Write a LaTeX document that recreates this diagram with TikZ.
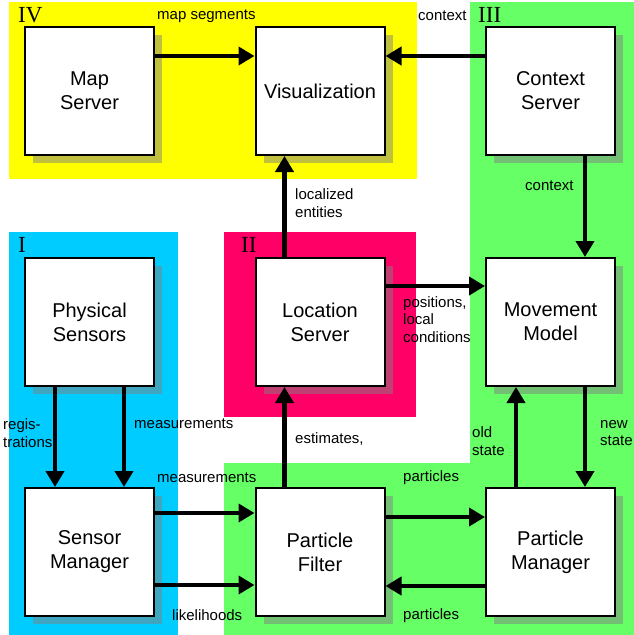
\documentclass[tikz,border=0pt]{standalone}
\usepackage{fontspec}
\setmainfont{Liberation Sans}
\newfontfamily\numfont{Liberation Serif}
\usepackage{xcolor}
\usepackage{tikz}
\usetikzlibrary{arrows.meta,shadows,calc}

\definecolor{zoneyellow}{HTML}{FFFF00}
\definecolor{zonegreen}{HTML}{66FF66}
\definecolor{zonecyan}{HTML}{00CCFF}
\definecolor{zonepink}{HTML}{FF0066}

\begin{document}
\begin{tikzpicture}[
    x=1pt, y=-1pt,
    box/.style={rectangle, draw, line width=2pt, fill=white, minimum width=129pt, minimum height=128pt, align=center, font=\fontsize{20}{24}\selectfont, drop shadow={shadow xshift=8pt, shadow yshift=-8pt, fill=gray, opacity=0.5}},
    flow/.style={line width=4.5pt, -{Triangle[length=16pt,width=18pt]}},
    lbl/.style={inner sep=0pt, anchor=west, align=left, font=\fontsize{15}{17.5}\selectfont},
    zone/.style={inner sep=0pt, anchor=west, font=\numfont\fontsize{23}{23}\selectfont}
]
    \useasboundingbox (0,0) rectangle (634,635);

    % Zones
    \fill[zoneyellow] (9,2) rectangle (417,179);
    \fill[zonegreen] (470,2) rectangle (634,635);
    \fill[zonegreen] (224,463) rectangle (634,635);
    \fill[zonecyan] (9,232) rectangle (178,635);
    \fill[zonepink] (224,232) rectangle (416,417);
    \node[zone] (zIV) at (18,15) {IV};
    \node[zone] (zIII) at (478,15) {III};
    \node[zone] (zI) at (18,245) {I};
    \node[zone] (zII) at (241,245) {II};

    % Components
    \node[box] (mapsrv) at (89.5,91) {Map\\Server};
    \node[box] (vis) at (320,91) {Visualization};
    \node[box] (ctxsrv) at (550.5,91) {Context\\Server};
    \node[box] (physens) at (89.5,322) {Physical\\Sensors};
    \node[box] (locsrv) at (320,322) {Location\\Server};
    \node[box] (movmod) at (550.5,322) {Movement\\Model};
    \node[box] (sensmgr) at (89.5,552) {Sensor\\Manager};
    \node[box] (pfilter) at (320,552) {Particle\\Filter};
    \node[box] (partmgr) at (550.5,552) {Particle\\Manager};

    % Top row
    \draw[flow] ($(mapsrv.north east)+(0,30)$) -- ($(vis.north west)+(0,30)$);
    \draw[flow] ($(ctxsrv.north west)+(0,30)$) -- ($(vis.north east)+(0,30)$);
    \draw[flow] ($(ctxsrv.south west)+(100,0)$) -- ($(movmod.north west)+(100,0)$);
    \node[lbl] (lmapseg) at (157,16) {map segments};
    \node[lbl] (lctx1) at (418,16) {context};
    \node[lbl] (lctx2) at (525,186) {context};

    % Middle row
    \draw[flow] ($(locsrv.north west)+(30,0)$) -- ($(vis.south west)+(30,0)$);
    \draw[flow] ($(locsrv.north east)+(0,29)$) -- ($(movmod.north west)+(0,29)$);
    \draw[flow] ($(physens.south west)+(31,0)$) -- ($(sensmgr.north west)+(31,0)$);
    \draw[flow] ($(physens.south west)+(100,0)$) -- ($(sensmgr.north west)+(100,0)$);
    \node[lbl] (lloc) at (295,203) {localized\\entities};
    \node[lbl] (lpos) at (403,319.5) {positions,\\local\\conditions};
    \node[lbl] (lreg) at (3,433) {regis-\\trations};
    \node[lbl] (lmeas1) at (134,424) {measurements};

    % Bottom row
    \draw[flow] ($(sensmgr.north east)+(0,26)$) -- ($(pfilter.north west)+(0,26)$);
    \draw[flow] ($(sensmgr.north east)+(0,98)$) -- ($(pfilter.north west)+(0,98)$);
    \draw[flow] ($(pfilter.north west)+(30,0)$) -- ($(locsrv.south west)+(30,0)$);
    \draw[flow] ($(pfilter.north east)+(0,30)$) -- ($(partmgr.north west)+(0,30)$);
    \draw[flow] ($(partmgr.north west)+(0,99)$) -- ($(pfilter.north east)+(0,99)$);
    \draw[flow] ($(partmgr.north west)+(31,0)$) -- ($(movmod.south west)+(31,0)$);
    \draw[flow] ($(movmod.south west)+(100,0)$) -- ($(partmgr.north west)+(100,0)$);
    \node[lbl] (lest) at (295,439) {estimates,};
    \node[lbl] (lold) at (472,441) {old\\state};
    \node[lbl] (lnew) at (600,433) {new\\state};
    \node[lbl] (lmeas2) at (157,478) {measurements};
    \node[lbl] (llik) at (172,615) {likelihoods};
    \node[lbl] (lpart1) at (403,478) {particles};
    \node[lbl] (lpart2) at (403,616) {particles};
\end{tikzpicture}
\end{document}
